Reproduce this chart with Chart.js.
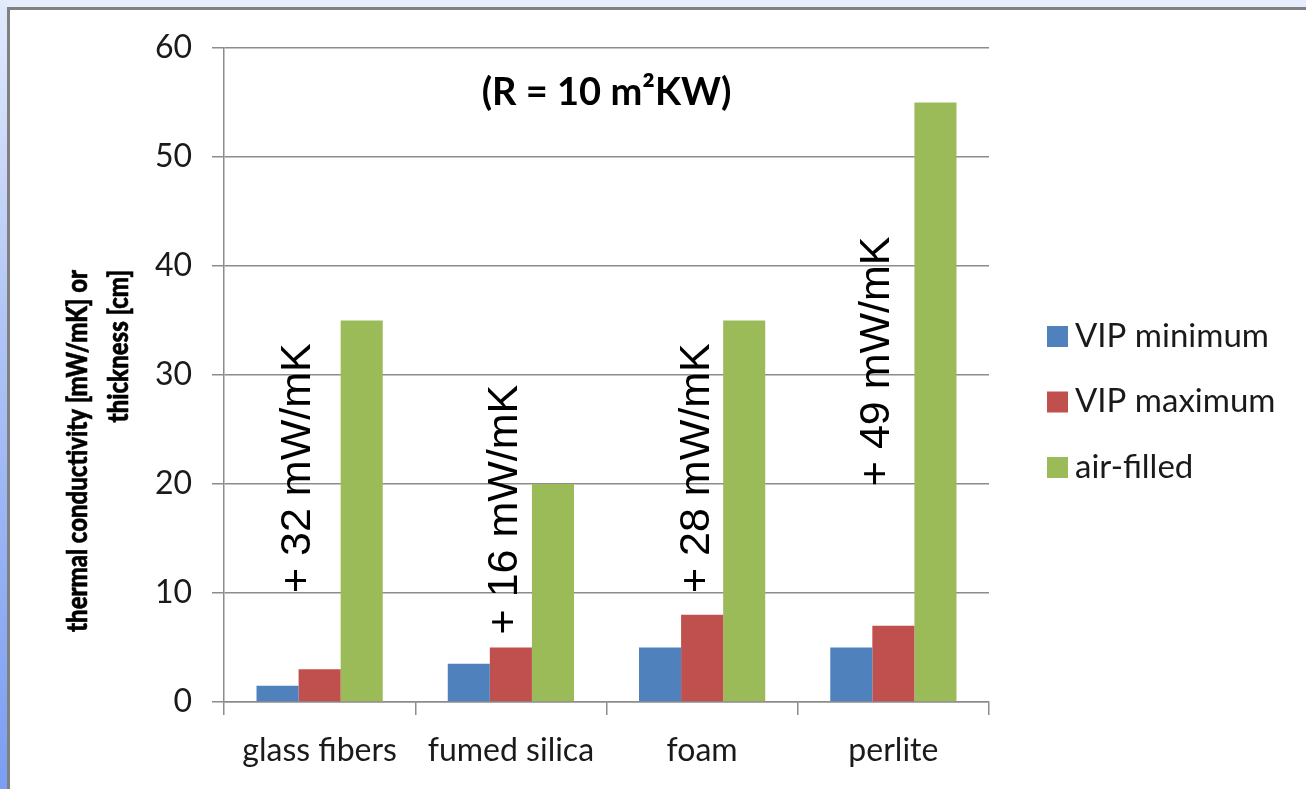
<!DOCTYPE html>
<html>
<head>
<meta charset="utf-8">
<script src="https://cdn.jsdelivr.net/npm/chart.js"></script>
<style>
  html, body { margin: 0; padding: 0; }
  body { width: 1306px; height: 789px; position: relative; overflow: hidden; background: #e4ecfd; }
  #strip { position: absolute; left: 0; top: 0; width: 7px; height: 789px;
           background: linear-gradient(to bottom, #e2eafc, #b2c6f6 40%, #7a9ef2); }
  #panel { position: absolute; left: 7px; top: 7px; right: 0; bottom: 0; background: #fff;
           border-top: 3px solid #808080; border-left: 3px solid #808080; }
  #wrap { position: absolute; left: 0; top: 0; width: 1306px; height: 789px; }
</style>
</head>
<body>
<div id="strip"></div>
<div id="panel"></div>
<div id="wrap"><canvas id="myChart" width="1306" height="789"></canvas></div>
<script>
// categories along the x-axis
var materials = ["glass fibers", "fumed silica", "foam", "perlite"];
// bar heights
var vipMin = [1.5, 3.5, 5, 5];
var vipMax = [3, 5, 8, 7];
var airFilled = [35, 20, 35, 55];
// the rotated notes and where they start (in axis units)
var notes = ["+ 32 mW/mK", "+ 16 mW/mK", "+ 28 mW/mK", "+ 49 mW/mK"];
var noteBase = [10, 6.2, 10, 19.8];
var yTicks = [0, 10, 20, 30, 40, 50, 60];

var labelFont = "Lato, 'Open Sans', sans-serif";

// draws the title, the y title, the notes and the legend
var extras = {
  id: "extras",
  afterDraw: function (chart) {
    var ctx = chart.ctx;
    var area = chart.chartArea;
    var y = chart.scales.y;
    ctx.save();

    // title inside the plot
    ctx.fillStyle = "#000";
    ctx.font = "bold 38px " + labelFont;
    ctx.textAlign = "center";
    ctx.textBaseline = "middle";
    ctx.fillText("(R = 10 m\u00b2KW)", (area.left + area.right) / 2, area.top + 45);

    // y axis title, two lines, end aligned, squeezed to the width of the original
    ctx.save();
    ctx.font = "900 28px " + labelFont;
    var line1 = "thermal conductivity [mW/mK] or";
    var squeeze = 362 / ctx.measureText(line1).width;
    ctx.translate(78, 270);
    ctx.rotate(-Math.PI / 2);
    ctx.scale(squeeze, 1);
    ctx.textAlign = "right";
    ctx.strokeStyle = "#000";
    ctx.lineWidth = 0.6;
    ctx.fillText(line1, 0, 0);
    ctx.strokeText(line1, 0, 0);
    ctx.fillText("thickness [cm]", 0, 41);
    ctx.strokeText("thickness [cm]", 0, 41);
    ctx.restore();

    // notes over the red bars
    var dx = [-21, -6, -5, -16];
    var red = chart.getDatasetMeta(1).data;
    ctx.font = "43px 'Liberation Sans', Arial, sans-serif";
    ctx.textAlign = "left";
    for (var i = 0; i < notes.length; i++) {
      ctx.save();
      ctx.translate(red[i].x + dx[i], y.getPixelForValue(noteBase[i]));
      ctx.rotate(-Math.PI / 2);
      ctx.fillText(notes[i], 0, 0);
      ctx.restore();
    }

    // legend
    ctx.font = "33px " + labelFont;
    chart.data.datasets.forEach(function (ds, k) {
      var cy = 336 + k * 65.5;
      ctx.fillStyle = ds.backgroundColor;
      ctx.fillRect(1047, cy - 10, 21, 21);
      ctx.fillStyle = "#1a1a1a";
      ctx.fillText(ds.label, 1075, cy);
    });
    ctx.restore();
  }
};

var myChart = new Chart("myChart", {
  type: "bar",
  data: {
    labels: materials,
    datasets: [
      { label: "VIP minimum", data: vipMin, backgroundColor: "#4f81bd" },
      { label: "VIP maximum", data: vipMax, backgroundColor: "#c0504d" },
      { label: "air-filled", data: airFilled, backgroundColor: "#9bbb59" }
    ]
  },
  options: {
    responsive: false,
    animation: false,
    layout: { padding: { left: 0, top: 48, right: 317, bottom: 0 } },
    datasets: { bar: { categoryPercentage: 0.66, barPercentage: 1 } },
    plugins: { legend: { display: false }, title: { display: false }, tooltip: { enabled: false } },
    scales: {
      x: {
        afterFit: function (s) { s.height = 87; },
        grid: { drawOnChartArea: false, tickLength: 13, color: "#8c8c8c", lineWidth: 1.5 },
        border: { color: "#8c8c8c", width: 1.5 },
        ticks: { color: "#1a1a1a", font: { family: labelFont, size: 32 }, padding: 16, maxRotation: 0 }
      },
      y: {
        min: 0,
        max: 60,
        afterFit: function (s) { s.width = 224; },
        afterBuildTicks: function (s) { s.ticks = yTicks.map(function (v) { return { value: v }; }); },
        grid: { color: "#8c8c8c", lineWidth: 1.5, tickLength: 12 },
        border: { color: "#8c8c8c", width: 1.5 },
        ticks: { color: "#1a1a1a", font: { family: labelFont, size: 32 }, padding: 20 }
      }
    }
  },
  plugins: [extras]
});
</script>
</body>
</html>
